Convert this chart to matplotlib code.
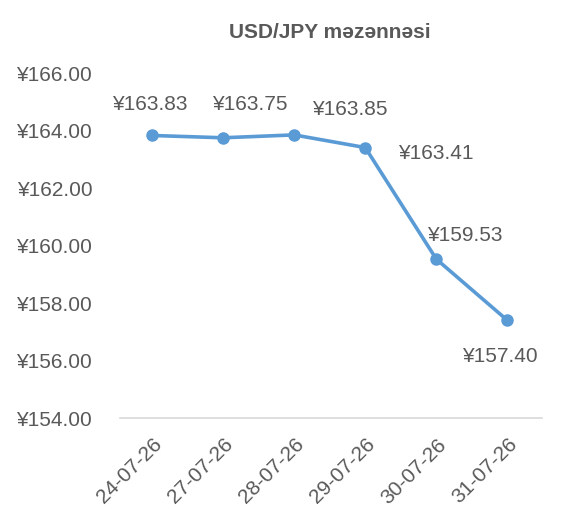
import matplotlib.pyplot as plt

plt.rcParams['font.family'] = ['Liberation Sans', 'DejaVu Sans']

dates = ['24-07-26', '27-07-26', '28-07-26', '29-07-26', '30-07-26', '31-07-26']
rates = [163.83, 163.75, 163.85, 163.41, 159.53, 157.40]
y_ticks = [154, 156, 158, 160, 162, 164, 166]

# label offsets in pixels (manually placed labels in the original)
label_offsets = [(-2, 31), (27, 33), (56, 25), (71, -6), (28, 24), (-8, -36)]

gray = '#595959'
blue = '#5B9BD5'

fig = plt.figure(figsize=(5.66, 5.22), dpi=100)
ax = fig.add_axes([0.212, 0.199, 0.746, 0.661])

x = list(range(len(dates)))
ax.plot(x, rates, '-o', color=blue, linewidth=2.6, markersize=8)

for xi, v, (dx, dy) in zip(x, rates, label_offsets):
    ax.annotate('¥%.2f' % v, (xi, v), xytext=(dx, dy), textcoords='offset pixels',
                ha='center', va='center', fontsize=15, color=gray)

ax.set_xlim(-0.45, len(dates) - 0.51)
ax.set_ylim(154, 166)
ax.set_yticks(y_ticks)
ax.set_yticklabels(['¥%.2f' % t for t in y_ticks], fontsize=15, color=gray)
ax.set_xticks(x)
ax.set_xticklabels(dates, rotation=45, ha='right', rotation_mode='anchor',
                   fontsize=15, color=gray)
ax.tick_params(axis='y', length=0, pad=20)
ax.tick_params(axis='x', length=0, pad=12)

for s in ['top', 'right', 'left']:
    ax.spines[s].set_visible(False)
ax.spines['bottom'].set_color('#D9D9D9')
ax.spines['bottom'].set_linewidth(1.2)

fig.text(0.582, 0.937, 'USD/JPY məzənnəsi', ha='center', va='center',
         fontsize=15, fontweight='bold', color=gray)

fig.savefig('out.png', dpi=100)
